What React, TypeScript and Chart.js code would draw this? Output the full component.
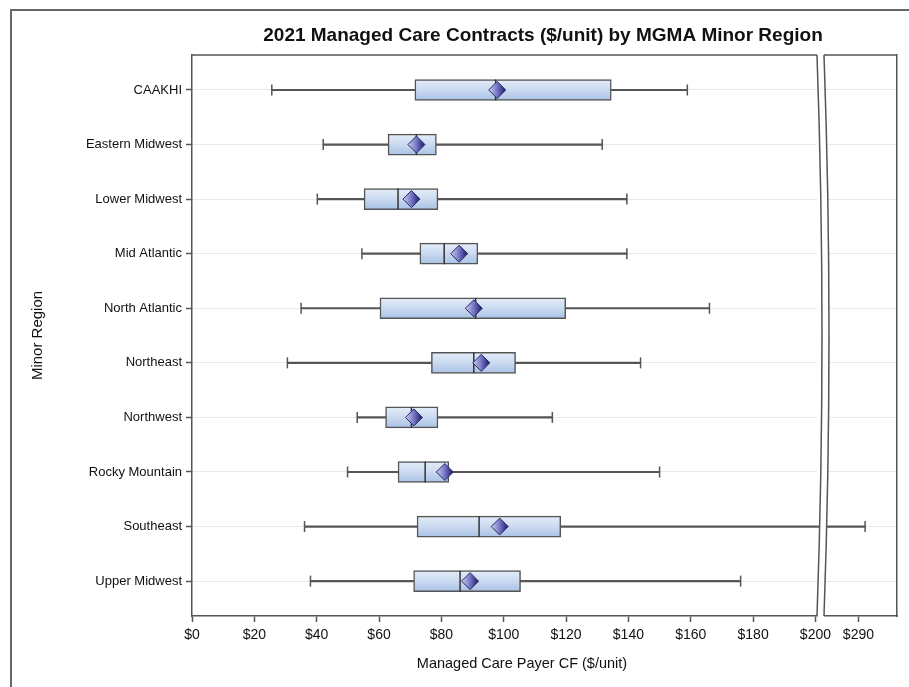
import React, { useEffect, useRef } from 'react';
import { Chart, registerables } from 'chart.js';

Chart.register(...registerables);

// ---------------- data ----------------
const regions = [
  'CAAKHI',
  'Eastern Midwest',
  'Lower Midwest',
  'Mid Atlantic',
  'North Atlantic',
  'Northeast',
  'Northwest',
  'Rocky Mountain',
  'Southeast',
  'Upper Midwest',
];
const whiskerLow = [25.6, 42.1, 40.2, 54.5, 35.0, 30.6, 53.0, 49.9, 36.1, 38.0];
const q1 = [71.5, 62.9, 55.2, 73.1, 60.3, 76.8, 62.1, 66.1, 72.2, 71.1];
const median = [97.4, 72.0, 66.1, 80.9, 91.0, 90.4, 70.4, 74.8, 92.1, 86.0];
const mean = [97.9, 72.0, 70.4, 85.7, 90.4, 92.8, 71.2, 81.1, 98.7, 89.2];
const q3 = [134.5, 78.4, 78.9, 91.7, 119.9, 103.8, 78.9, 82.4, 118.3, 105.4];
const whiskerHigh = [158.9, 131.6, 139.5, 139.5, 166.0, 143.9, 115.6, 150.0, 292.2, 176.0];

const leftTicks = [0, 20, 40, 60, 80, 100, 120, 140, 160, 180, 200];
const rightTicks = [290];

const chartTitle = '2021 Managed Care Contracts ($/unit) by MGMA Minor Region';
const xTitle = 'Managed Care Payer CF ($/unit)';
const yTitle = 'Minor Region';

// ---------------- layout ----------------
const FONT = "'Liberation Sans', Arial, Helvetica, sans-serif";
const W = 909;
const H = 687;
const PLOT_TOP = 55;
const PLOT_BOTTOM = 616;
const LEFT_PAD = 12;
const LEFT_L = 192;
const LEFT_R = 817;
const RIGHT_L = 825;
const RIGHT_R = 899;
const Y_MIN = -0.641;
const Y_MAX = 9.639;
const LEFT_MIN = 0;
const LEFT_MAX = 200.5;
const RIGHT_MIN = 279.0;
const RIGHT_MAX = 302.7;
const FRAME = '#555555';
const GRID = '#e8e8e8';
const TEXT = '#111111';

function meanFill(c: any) {
  const i = c.dataIndex;
  const xs = c.chart.scales && c.chart.scales.x;
  if (i === undefined || !xs) return '#6a6ab8';
  const px = xs.getPixelForValue(mean[i]);
  if (!Number.isFinite(px)) return '#6a6ab8';
  const g = c.chart.ctx.createLinearGradient(px - 8, 0, px + 8, 0);
  g.addColorStop(0, '#c8c8f0');
  g.addColorStop(0.5, '#7676c6');
  g.addColorStop(1, '#1c1c6c');
  return g;
}

function boxFill(c: any) {
  const i = c.dataIndex;
  const ys = c.chart.scales && c.chart.scales.y;
  if (i === undefined || !ys) return '#c6d7ee';
  const py = ys.getPixelForValue(i);
  if (!Number.isFinite(py)) return '#c6d7ee';
  const g = c.chart.ctx.createLinearGradient(0, py - 10.5, 0, py + 10.5);
  g.addColorStop(0, '#e4edf9');
  g.addColorStop(0.45, '#cddcf1');
  g.addColorStop(1, '#a9c2e5');
  return g;
}

function buildDatasets(isLeft: boolean): any[] {
  return [
    {
      type: 'scatter',
      label: 'Mean',
      data: regions.map((_, i) => ({ x: mean[i], y: i })),
      pointStyle: 'rectRot',
      pointRadius: 8.5,
      pointHoverRadius: 8.5,
      pointBorderColor: '#2a2a5e',
      pointBorderWidth: 1,
      pointBackgroundColor: meanFill,
    },
    {
      type: 'scatter',
      label: 'Median',
      data: regions.map((_, i) => ({ x: median[i], y: i })),
      pointStyle: 'line',
      pointRotation: 90,
      pointRadius: 10.5,
      pointHoverRadius: 10.5,
      pointBorderColor: '#333333',
      pointBorderWidth: 1.5,
    },
    {
      type: 'bar',
      label: 'Box',
      indexAxis: 'y',
      grouped: false,
      barThickness: 21,
      data: regions.map((_, i) => ({ x: [q1[i], q3[i]], y: i })),
      backgroundColor: boxFill,
      borderColor: FRAME,
      borderWidth: 1.5,
      borderSkipped: false,
    },
    {
      type: 'scatter',
      label: 'Caps',
      data: [
        ...regions.map((_, i) => ({ x: whiskerLow[i], y: i })),
        ...regions.map((_, i) => ({ x: whiskerHigh[i], y: i })),
      ],
      pointStyle: 'line',
      pointRotation: 90,
      pointRadius: 5.5,
      pointHoverRadius: 5.5,
      pointBorderColor: FRAME,
      pointBorderWidth: 1.5,
    },
    {
      type: 'bar',
      label: 'Whisker',
      indexAxis: 'y',
      grouped: false,
      barThickness: 1.5,
      data: regions.map((_, i) => ({ x: [whiskerLow[i], whiskerHigh[i]], y: i })),
      backgroundColor: FRAME,
      borderWidth: 0,
      clip: isLeft ? { left: 0, top: 0, right: 7, bottom: 0 } : 0,
    },
  ];
}

const leftDecor = {
  id: 'leftDecor',
  afterDraw(chart: any) {
    const { ctx, chartArea: ca } = chart;
    ctx.save();
    ctx.strokeStyle = FRAME;
    ctx.lineWidth = 1.5;
    ctx.beginPath();
    ctx.moveTo(ca.left, ca.top);
    ctx.lineTo(ca.right, ca.top);
    ctx.stroke();

    const x1 = ca.right;
    const x2 = RIGHT_L - 1;
    const bulge = 10;
    const top = ca.top;
    const bot = ca.bottom;
    const mid = (top + bot) / 2;
    ctx.beginPath();
    ctx.moveTo(x1, top);
    ctx.quadraticCurveTo(x1 + bulge, mid, x1, bot);
    ctx.lineTo(x2, bot);
    ctx.quadraticCurveTo(x2 + bulge, mid, x2, top);
    ctx.closePath();
    ctx.fillStyle = '#ffffff';
    ctx.fill();
    ctx.beginPath();
    ctx.moveTo(x1, top);
    ctx.quadraticCurveTo(x1 + bulge, mid, x1, bot);
    ctx.stroke();
    ctx.beginPath();
    ctx.moveTo(x2, top);
    ctx.quadraticCurveTo(x2 + bulge, mid, x2, bot);
    ctx.stroke();

    ctx.strokeStyle = '#666666';
    ctx.lineWidth = 2;
    ctx.beginPath();
    ctx.moveTo(11, H);
    ctx.lineTo(11, 10);
    ctx.lineTo(W, 10);
    ctx.stroke();

    ctx.fillStyle = TEXT;
    ctx.textAlign = 'center';
    ctx.textBaseline = 'middle';
    ctx.font = `bold 19px ${FONT}`;
    ctx.fillText(chartTitle, 543, 36);
    ctx.font = `14.5px ${FONT}`;
    ctx.fillText(xTitle, 522, 664);
    ctx.restore();
  },
};

const rightDecor = {
  id: 'rightDecor',
  afterDraw(chart: any) {
    const { ctx, chartArea: ca } = chart;
    ctx.save();
    ctx.strokeStyle = FRAME;
    ctx.lineWidth = 1.5;
    ctx.beginPath();
    ctx.moveTo(RIGHT_L - 1, ca.top);
    ctx.lineTo(ca.right, ca.top);
    ctx.stroke();
    ctx.restore();
  },
};

function xAxis(min: number, max: number, ticks: number[]) {
  return {
    type: 'linear',
    position: 'bottom',
    min,
    max,
    offset: false,
    beginAtZero: false,
    afterBuildTicks: (s: any) => {
      s.ticks = ticks.map((v) => ({ value: v }));
    },
    afterFit: (s: any) => {
      s.height = H - PLOT_BOTTOM;
    },
    ticks: {
      callback: (v: any) => '$' + v,
      color: TEXT,
      font: { family: FONT, size: 14 },
      padding: 5,
      maxRotation: 0,
      autoSkip: false,
    },
    grid: {
      display: true,
      offset: false,
      drawOnChartArea: false,
      drawTicks: true,
      tickLength: 6,
      tickColor: FRAME,
      tickWidth: 1.5,
      color: FRAME,
    },
    border: { display: true, color: FRAME, width: 1.5 },
  };
}

function yAxis(isLeft: boolean) {
  const base: any = {
    type: 'linear',
    position: isLeft ? 'left' : 'right',
    reverse: true,
    min: Y_MIN,
    max: Y_MAX,
    offset: false,
    beginAtZero: false,
    afterBuildTicks: (s: any) => {
      s.ticks = regions.map((_, i) => ({ value: i }));
    },
    afterFit: (s: any) => {
      s.width = isLeft ? LEFT_L - LEFT_PAD : 0;
    },
    border: { display: true, color: FRAME, width: 1.5 },
  };
  if (isLeft) {
    base.ticks = {
      callback: (v: any) => regions[v] ?? '',
      color: TEXT,
      font: { family: FONT, size: 13 },
      padding: 4,
      autoSkip: false,
    };
    base.grid = {
      color: GRID,
      offset: false,
      lineWidth: 1,
      drawTicks: true,
      tickLength: 6,
      tickColor: FRAME,
      tickWidth: 1.5,
    };
    base.title = {
      display: true,
      text: yTitle,
      color: TEXT,
      font: { family: FONT, size: 15 },
      padding: { top: 17, bottom: 0 },
    };
  } else {
    base.ticks = { display: false };
    base.grid = { color: GRID, offset: false, lineWidth: 1, drawTicks: false };
  }
  return base;
}

function makeConfig(isLeft: boolean): any {
  return {
    type: 'scatter',
    data: { datasets: buildDatasets(isLeft) },
    options: {
      responsive: false,
      animation: false,
      events: [],
      layout: {
        padding: isLeft
          ? { left: LEFT_PAD, top: PLOT_TOP, right: W - LEFT_R, bottom: 0 }
          : { left: RIGHT_L, top: PLOT_TOP, right: W - RIGHT_R, bottom: 0 },
      },
      plugins: { legend: { display: false }, tooltip: { enabled: false }, title: { display: false } },
      scales: {
        x: isLeft ? xAxis(LEFT_MIN, LEFT_MAX, leftTicks) : xAxis(RIGHT_MIN, RIGHT_MAX, rightTicks),
        y: yAxis(isLeft),
      },
    },
    plugins: [isLeft ? leftDecor : rightDecor],
  };
}

export default function App() {
  const leftRef = useRef<HTMLCanvasElement | null>(null);
  const rightRef = useRef<HTMLCanvasElement | null>(null);

  useEffect(() => {
    Chart.defaults.font.family = FONT;
    if (!leftRef.current || !rightRef.current) return;
    const right = new Chart(rightRef.current, makeConfig(false));
    const left = new Chart(leftRef.current, makeConfig(true));
    return () => {
      left.destroy();
      right.destroy();
    };
  }, []);

  const canvasStyle: React.CSSProperties = { position: 'absolute', left: 0, top: 0, width: W, height: H };
  return (
    <div style={{ position: 'absolute', left: 0, top: 0, width: W, height: H, background: '#ffffff' }}>
      <canvas ref={rightRef} width={W} height={H} style={canvasStyle} />
      <canvas ref={leftRef} width={W} height={H} style={canvasStyle} />
    </div>
  );
}
